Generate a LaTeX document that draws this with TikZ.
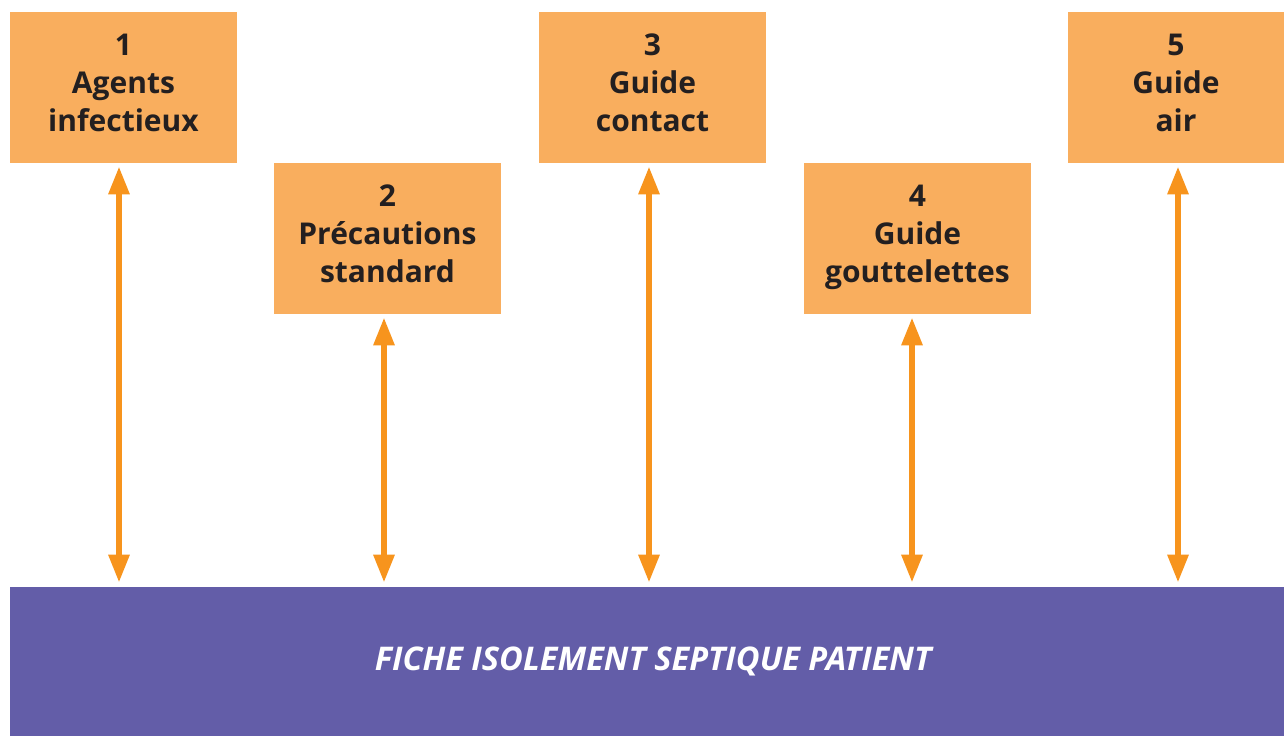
\documentclass[tikz,border=0pt]{standalone}
\usepackage{fontspec}
\setmainfont{Open Sans}
\usetikzlibrary{arrows.meta,positioning}
\definecolor{boxorange}{HTML}{F9AE5E}
\definecolor{arroworange}{HTML}{F7941D}
\definecolor{barpurple}{HTML}{635DA8}
\definecolor{txtdark}{HTML}{231F20}

\begin{document}
\begin{tikzpicture}
  [x=0.5pt,y=-0.5pt,
   guide/.style={fill=boxorange,draw=none,inner sep=0pt,minimum width=113.5pt,minimum height=75.5pt,align=center,text=txtdark,font=\fontsize{15}{19}\selectfont\bfseries,execute at end node={\vrule width 0pt depth 4.5pt}},
   link/.style={draw=arroworange,line width=3pt,{Triangle[length=14pt,width=10pt]}-{Triangle[length=14pt,width=10pt]},shorten <=1.5pt,shorten >=2pt}]
  \useasboundingbox (0,0) rectangle (1284,736);

  \node[guide] (g1) at (123.5,87.5) {1\\Agents\\infectieux};
  \node[guide] (g2) at (387.5,238.5) {2\\Précautions\\standard};
  \node[guide] (g3) at (652.5,87.5) {3\\Guide\\contact};
  \node[guide] (g4) at (917.5,238.5) {4\\Guide\\gouttelettes};
  \node[guide,minimum width=108pt] (g5) at (1176,87.5) {5\\Guide\\air};

  \node[fill=barpurple,inner sep=0pt,minimum width=637pt,minimum height=74.5pt,text=white,font=\fontsize{16.3}{19}\selectfont\bfseries\itshape] (fiche) at (647,661.5) {\raisebox{-1.5pt}{\hspace{6pt}FICHE ISOLEMENT SEPTIQUE PATIENT}};

  \draw[link] ([xshift=-2.25pt]g1.south) -- ([xshift=-2.25pt]g1.south |- fiche.north);
  \draw[link] ([xshift=-1.75pt]g2.south) -- ([xshift=-1.75pt]g2.south |- fiche.north);
  \draw[link] ([xshift=-1.75pt]g3.south) -- ([xshift=-1.75pt]g3.south |- fiche.north);
  \draw[link] ([xshift=-2.75pt]g4.south) -- ([xshift=-2.75pt]g4.south |- fiche.north);
  \draw[link] ([xshift=1pt]g5.south) -- ([xshift=1pt]g5.south |- fiche.north);
\end{tikzpicture}
\end{document}
